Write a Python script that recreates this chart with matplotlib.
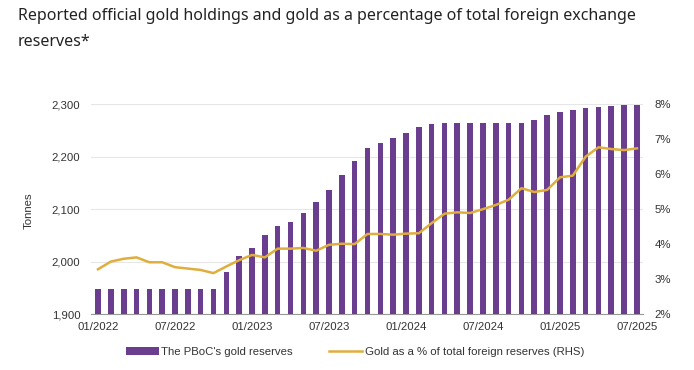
import numpy as np
import matplotlib.pyplot as plt
from matplotlib.ticker import FuncFormatter

# monthly data, 01/2022 .. 07/2025
months = [f"{m:02d}/{y}" for y in range(2022, 2026) for m in range(1, 13)][:43]

gold_tonnes = [1948.3, 1948.3, 1948.3, 1948.3, 1948.3, 1948.3, 1948.3, 1948.3, 1948.3, 1948.3,
               1980.3, 2010.5,
               2025.4, 2050.3, 2068.2, 2076.0, 2092.2, 2113.0, 2136.2, 2165.1, 2191.5, 2215.8,
               2226.4, 2235.4,
               2245.4, 2257.0, 2262.4, 2264.3, 2264.3, 2264.3, 2264.3, 2264.3, 2264.3, 2264.3,
               2269.3, 2279.6,
               2285.0, 2290.0, 2292.3, 2294.5, 2296.4, 2298.5, 2299.2]

gold_pct = [3.28, 3.50, 3.58, 3.62, 3.48, 3.48, 3.34, 3.30, 3.26, 3.17, 3.36, 3.54,
            3.69, 3.62, 3.87, 3.87, 3.89, 3.81, 3.98, 4.01, 4.00, 4.29, 4.29, 4.27,
            4.30, 4.31, 4.60, 4.87, 4.91, 4.89, 5.00, 5.12, 5.27, 5.60, 5.49, 5.55,
            5.91, 5.96, 6.50, 6.77, 6.72, 6.69, 6.74]

tick_idx = list(range(0, 43, 6))

purple = "#6a3d8f"
gold = "#dfae3c"
tick_font = "Liberation Sans"
fs = 8.2

fig = plt.figure(figsize=(6.94, 3.70), dpi=100)
ax = fig.add_axes([90.7 / 694, 1 - 314 / 370, (643 - 90.7) / 694, (314 - 104.3) / 370])
x = np.arange(len(months))

bars = ax.bar(x, gold_tonnes, width=0.44, color=purple, zorder=3, label="The PBoC's gold reserves")
ax.set_ylim(1900, 2300)
ax.set_yticks(range(1900, 2301, 100))
ax.yaxis.set_major_formatter(FuncFormatter(lambda v, p: f"{int(v):,}"))
ax.set_xlim(-0.57, 42.47)
ax.set_xticks(tick_idx)
ax.set_xticklabels([months[i] for i in tick_idx])
ax.grid(axis="y", color="#e6e6e6", linewidth=0.8, zorder=0)
for s in ["top", "right", "left"]:
    ax.spines[s].set_visible(False)
ax.spines["bottom"].set_color("#999999")
ax.spines["bottom"].set_linewidth(0.8)
ax.tick_params(axis="both", length=0, labelsize=fs, labelcolor="#333333")
ax.tick_params(axis="y", pad=7.5)
ax.tick_params(axis="x", pad=5.5)

ax2 = ax.twinx()
line, = ax2.plot(x, gold_pct, color=gold, linewidth=1.8, zorder=4,
                 label="Gold as a % of total foreign reserves (RHS)")
ax2.set_ylim(2, 8)
ax2.set_yticks(range(2, 9))
ax2.yaxis.set_major_formatter(FuncFormatter(lambda v, p: f"{int(v)}%"))
for s in ["top", "right", "left", "bottom"]:
    ax2.spines[s].set_visible(False)
ax2.tick_params(axis="y", length=0, labelsize=fs, labelcolor="#333333", pad=8.5)

for lab in ax.get_xticklabels() + ax.get_yticklabels() + ax2.get_yticklabels():
    lab.set_fontfamily(tick_font)

fig.text(29 / 694, 1 - 211 / 370, "Tonnes", rotation=90, ha="center", va="center",
         fontsize=fs, color="#333333", family=tick_font)

fig.text(18 / 694, 1 - 19.5 / 370,
         "Reported official gold holdings and gold as a percentage of total foreign exchange",
         fontsize=11.5, color="#222222", family="Noto Sans", va="baseline")
fig.text(18 / 694, 1 - 46.5 / 370, "reserves*",
         fontsize=11.5, color="#222222", family="Noto Sans", va="baseline")

fig.legend([bars, line], [bars.get_label(), line.get_label()], ncol=2, frameon=False,
           loc="center", bbox_to_anchor=(355 / 694, 1 - 352 / 370),
           prop={"family": tick_font, "size": fs}, handlelength=2.9, handleheight=0.6,
           handletextpad=0.2, columnspacing=3.2, labelcolor="#333333")

fig.savefig("out.png", dpi=100)
